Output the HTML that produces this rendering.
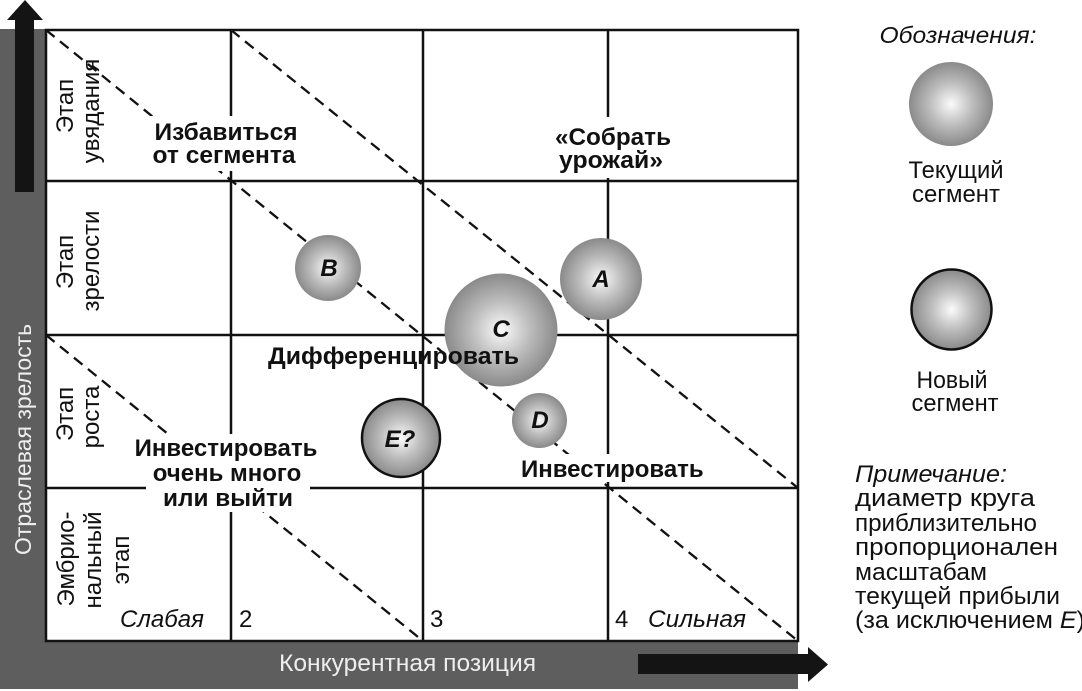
<!DOCTYPE html>
<html>
<head>
<meta charset="utf-8">
<style>
html,body{margin:0;padding:0;background:#fff;}
svg{display:block;}
text{font-family:"Liberation Sans","Noto Sans CJK SC",sans-serif;}
</style>
</head>
<body>
<svg width="1082" height="691" viewBox="0 0 1082 691" xmlns="http://www.w3.org/2000/svg">
<defs>
<radialGradient id="g" cx="50%" cy="50%" r="50%">
<stop offset="0" stop-color="#fbfbfb"/>
<stop offset="0.5" stop-color="#bebebe"/>
<stop offset="1" stop-color="#8a8a8a"/>
</radialGradient>
</defs>
<rect x="0" y="0" width="1082" height="691" fill="#fff"/>

<!-- gray bars -->
<rect x="0" y="29" width="45" height="660" fill="#5e5e5e"/>
<rect x="0" y="641" width="798" height="48" fill="#5e5e5e"/>

<!-- grid -->
<g stroke="#111" stroke-width="2.5" fill="none">
<rect x="46" y="30" width="752" height="611"/>
<line x1="231" y1="30" x2="231" y2="641"/>
<line x1="423" y1="30" x2="423" y2="641"/>
<line x1="608" y1="30" x2="608" y2="641"/>
<line x1="46" y1="181" x2="798" y2="181"/>
<line x1="46" y1="335" x2="798" y2="335"/>
<line x1="46" y1="488" x2="798" y2="488"/>
</g>

<!-- dashed diagonals -->
<g stroke="#111" stroke-width="2.3" stroke-dasharray="11 7" fill="none">
<line x1="46" y1="30" x2="798" y2="641"/>
<line x1="231" y1="30" x2="798" y2="488"/>
<line x1="46" y1="335" x2="423" y2="641"/>
</g>

<!-- label backgrounds -->
<g fill="#fff">
<rect x="150" y="116" width="152" height="55"/>
<rect x="552" y="117" width="122" height="61"/>
<rect x="135" y="434" width="183" height="28"/>
<rect x="146" y="459" width="164" height="33"/>
<rect x="160" y="484" width="137" height="28"/>
<rect x="517" y="454" width="196" height="28"/>
</g>

<!-- circles -->
<circle cx="328" cy="268" r="33" fill="url(#g)"/>
<circle cx="601" cy="279" r="41" fill="url(#g)"/>
<circle cx="501" cy="330" r="56.5" fill="url(#g)"/>
<circle cx="539.5" cy="420.5" r="27.5" fill="url(#g)"/>
<circle cx="401" cy="438" r="39" fill="url(#g)" stroke="#111" stroke-width="2.5"/>

<!-- circle labels -->
<g font-weight="bold" font-style="italic" font-size="24" fill="#111" text-anchor="middle">
<text x="329" y="276">B</text>
<text x="601" y="287">A</text>
<text x="501" y="337">C</text>
<text x="540" y="428">D</text>
<text x="400" y="447">E?</text>
</g>

<!-- bold zone labels -->
<g font-weight="bold" font-size="24" fill="#111">
<text x="226" y="140" text-anchor="middle" textLength="143" lengthAdjust="spacingAndGlyphs">Избавиться</text>
<text x="224" y="163" text-anchor="middle" textLength="143" lengthAdjust="spacingAndGlyphs">от сегмента</text>
<text x="613" y="145" text-anchor="middle" textLength="116" lengthAdjust="spacingAndGlyphs">«Собрать</text>
<text x="611" y="168" text-anchor="middle" textLength="104" lengthAdjust="spacingAndGlyphs">урожай»</text>
<text x="268" y="364" textLength="251" lengthAdjust="spacingAndGlyphs">Дифференцировать</text>
<text x="226" y="456" text-anchor="middle">Инвестировать</text>
<text x="227" y="481" text-anchor="middle">очень много</text>
<text x="228" y="506" text-anchor="middle" textLength="130" lengthAdjust="spacingAndGlyphs">или выйти</text>
<text x="521" y="477">Инвестировать</text>
</g>

<!-- row labels (rotated) -->
<g font-size="24" fill="#111" text-anchor="middle">
<text transform="translate(73,106) rotate(-90)">Этап</text>
<text transform="translate(99,111) rotate(-90)">увядания</text>
<text transform="translate(73,262) rotate(-90)">Этап</text>
<text transform="translate(99,261) rotate(-90)">зрелости</text>
<text transform="translate(73,414) rotate(-90)">Этап</text>
<text transform="translate(99,417) rotate(-90)">роста</text>
<text transform="translate(74,559) rotate(-90)">Эмбрио-</text>
<text transform="translate(101,560) rotate(-90)">нальный</text>
<text transform="translate(129,560) rotate(-90)">этап</text>
</g>

<!-- column labels -->
<g font-size="24" fill="#111">
<text x="120" y="627" font-style="italic" textLength="84" lengthAdjust="spacingAndGlyphs">Слабая</text>
<text x="239" y="627">2</text>
<text x="430" y="627">3</text>
<text x="615" y="627">4</text>
<text x="648" y="627" font-style="italic" textLength="98" lengthAdjust="spacingAndGlyphs">Сильная</text>
</g>

<!-- axis labels -->
<text x="279" y="671" font-size="24" fill="#eeeeee" textLength="257" lengthAdjust="spacingAndGlyphs">Конкурентная позиция</text>
<text transform="translate(31,555) rotate(-90)" font-size="23" fill="#eeeeee">Отраслевая зрелость</text>

<!-- arrows -->
<rect x="15" y="19" width="19" height="173" fill="#141414"/>
<polygon points="7,20 25,0 43,20" fill="#141414"/>
<rect x="638" y="654" width="171" height="20" fill="#141414"/>
<polygon points="808,647 828,664.5 808,682" fill="#141414"/>

<!-- legend -->
<text x="958" y="43" font-size="23" font-style="italic" fill="#111" text-anchor="middle" textLength="157" lengthAdjust="spacingAndGlyphs">Обозначения:</text>
<circle cx="951" cy="104" r="42" fill="url(#g)"/>
<g font-size="24" fill="#111" text-anchor="middle">
<text x="956" y="178" textLength="95" lengthAdjust="spacingAndGlyphs">Текущий</text>
<text x="956" y="202" textLength="88" lengthAdjust="spacingAndGlyphs">сегмент</text>
</g>
<circle cx="951.5" cy="309.5" r="40" fill="url(#g)" stroke="#111" stroke-width="2.5"/>
<g font-size="24" fill="#111" text-anchor="middle">
<text x="952" y="388" textLength="71" lengthAdjust="spacingAndGlyphs">Новый</text>
<text x="955" y="411" textLength="87" lengthAdjust="spacingAndGlyphs">сегмент</text>
</g>

<!-- note -->
<g font-size="24" fill="#111">
<text x="855" y="482" font-style="italic" textLength="152" lengthAdjust="spacingAndGlyphs">Примечание:</text>
<text x="855" y="506" textLength="180" lengthAdjust="spacingAndGlyphs">диаметр круга</text>
<text x="855" y="531" textLength="182" lengthAdjust="spacingAndGlyphs">приблизительно</text>
<text x="855" y="555" textLength="203" lengthAdjust="spacingAndGlyphs">пропорционален</text>
<text x="855" y="580" textLength="132" lengthAdjust="spacingAndGlyphs">масштабам</text>
<text x="855" y="604" textLength="205" lengthAdjust="spacingAndGlyphs">текущей прибыли</text>
<text x="855" y="628" textLength="230" lengthAdjust="spacingAndGlyphs">(за исключением <tspan font-style="italic">E</tspan>)</text>
</g>
</svg>
</body>
</html>
